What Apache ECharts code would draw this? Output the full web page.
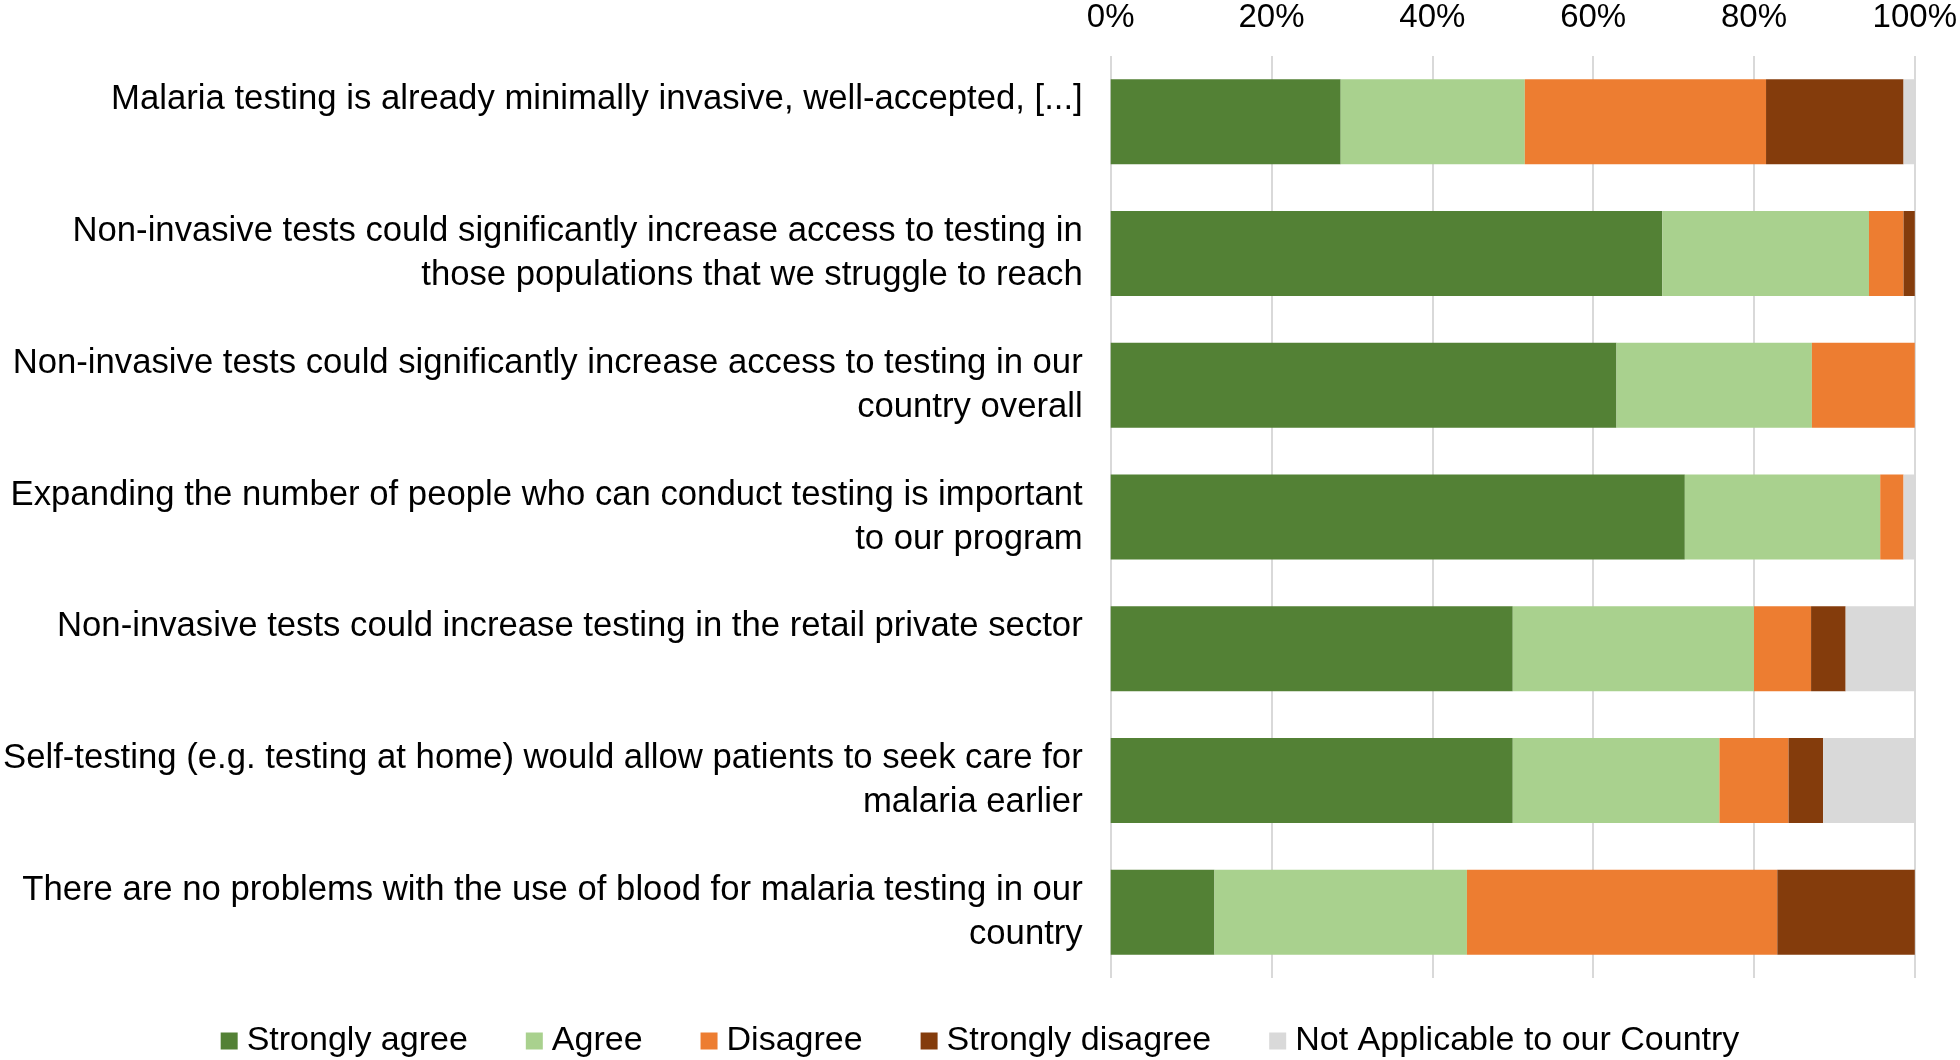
<!DOCTYPE html>
<html>
<head>
<meta charset="utf-8">
<script src="https://cdn.jsdelivr.net/npm/echarts@6/dist/echarts.min.js"></script>
<style>
html,body{margin:0;padding:0;background:#fff;}
#chart{width:1960px;height:1060px;}
</style>
</head>
<body>
<div id="chart"></div>
<script>
const categories = [
  "Malaria testing is already minimally invasive, well-accepted, [...]",
  "Non-invasive tests could significantly increase access to testing in\nthose populations that we struggle to reach",
  "Non-invasive tests could significantly increase access to testing in our\ncountry overall",
  "Expanding the number of people who can conduct testing is important\nto our program",
  "Non-invasive tests could increase testing in the retail private sector",
  "Self-testing (e.g. testing at home) would allow patients to seek care for\nmalaria earlier",
  "There are no problems with the use of blood for malaria testing in our\ncountry"
];
const seriesNames = ["Strongly agree", "Agree", "Disagree", "Strongly disagree", "Not Applicable to our Country"];
const stronglyAgree = [28.6, 68.6, 62.9, 71.4, 50.0, 50.0, 12.9];
const agree = [22.9, 25.7, 24.3, 24.3, 30.0, 25.7, 31.4];
const disagree = [30.0, 4.3, 12.9, 2.9, 7.1, 8.6, 38.6];
const stronglyDisagree = [17.1, 1.4, 0, 0, 4.3, 4.3, 17.1];
const notApplicable = [1.4, 0, 0, 1.4, 8.6, 11.4, 0];
const tickValues = [0, 20, 40, 60, 80, 100];

const colors = ["#538135", "#A9D18E", "#ED7D31", "#843C0C", "#D9D9D9"];
const allData = [stronglyAgree, agree, disagree, stronglyDisagree, notApplicable];
const FONT = "'Liberation Sans', Arial, sans-serif";

const chart = echarts.init(document.getElementById('chart'), null, {renderer: 'canvas'});
chart.setOption({
  animation: false,
  backgroundColor: '#ffffff',
  color: colors,
  grid: {left: 1109, right: 41, top: 56, height: 922, containLabel: false},
  legend: {
    data: seriesNames,
    left: 'center',
    top: 1019,
    icon: 'rect',
    itemWidth: 17,
    itemHeight: 17,
    itemGap: 58,
    textStyle: {fontFamily: FONT, fontSize: 34, color: '#000', padding: [0, 0, 0, 4]}
  },
  xAxis: {
    type: 'value',
    position: 'top',
    min: 0,
    max: 100,
    interval: 20,
    axisLine: {show: false},
    axisTick: {show: false},
    splitLine: {show: true, lineStyle: {color: '#D9D9D9', width: 2}},
    axisLabel: {
      fontFamily: FONT, fontSize: 33, color: '#000', margin: 22,
      formatter: v => tickValues.indexOf(v) >= 0 ? v + '%' : ''
    }
  },
  yAxis: {
    type: 'category',
    data: categories,
    inverse: true,
    axisLine: {show: false},
    axisTick: {show: false},
    axisLabel: {
      fontFamily: FONT, fontSize: 34.7, color: '#000', margin: 28, lineHeight: 44,
      align: 'right',
      formatter: v => v.indexOf('\n') >= 0 ? v : v + '\n '
    }
  },
  series: seriesNames.map((name, i) => ({
    name: name,
    type: 'bar',
    stack: 'total',
    barWidth: 85,
    data: allData[i],
    itemStyle: {color: colors[i]}
  }))
});
</script>
</body>
</html>
